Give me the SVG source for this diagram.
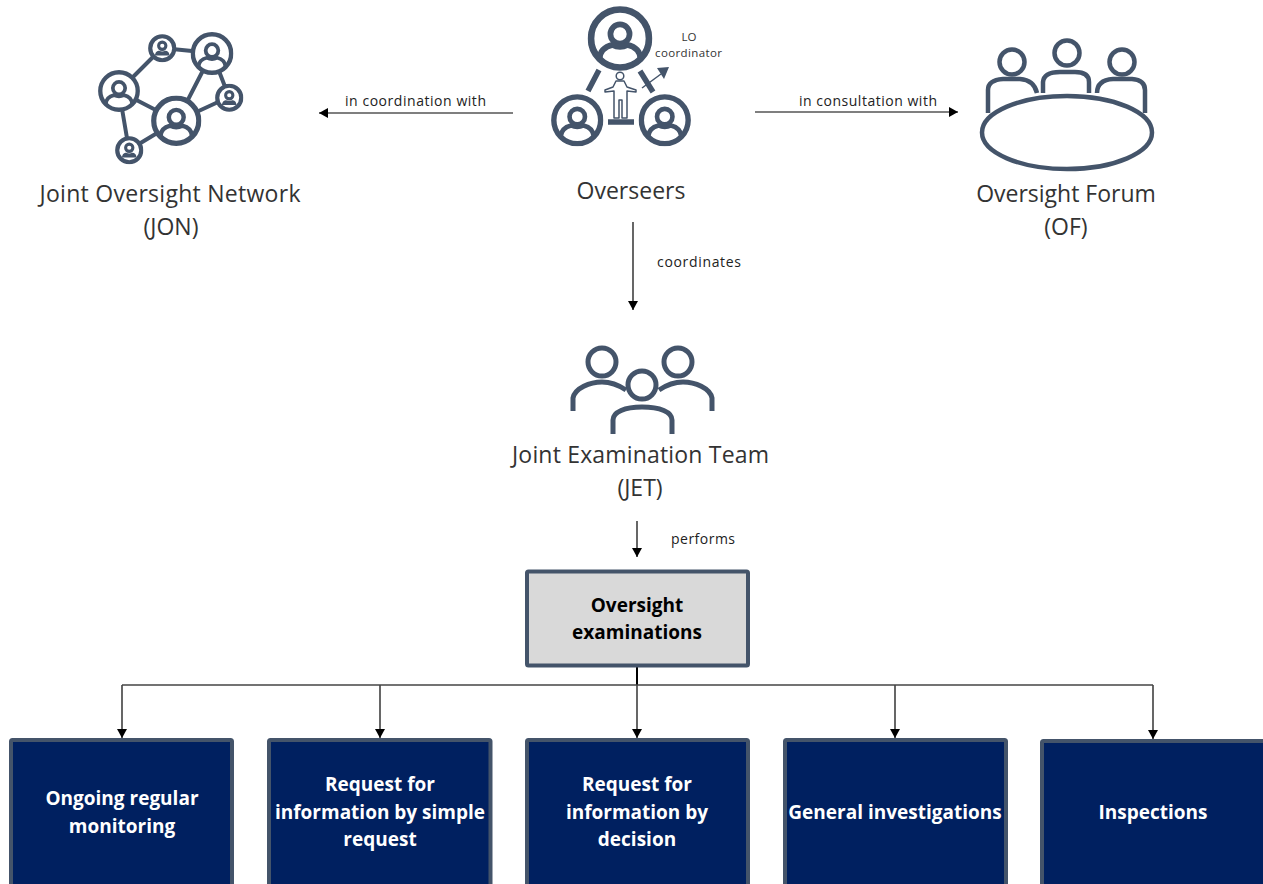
<svg xmlns="http://www.w3.org/2000/svg" width="1263" height="884" viewBox="0 0 1263 884">
<style>
text{font-family:"Open Sans","Noto Sans","Liberation Sans",sans-serif;text-anchor:middle}
.big{font-size:23px;fill:#333}
.small{font-size:14px;fill:#222}
.lo{font-size:11.5px;fill:#333}
.b{font-size:19px;font-weight:700}
.w{fill:#fff}
.k{fill:#000}
.i{fill:none;stroke:#44546a;stroke-linecap:butt;stroke-linejoin:round}
.c{fill:none;stroke:#000;stroke-width:1.2}
.h{fill:none;stroke:#444;stroke-width:1.6}
.nb{fill:#002060;stroke:#44546a;stroke-width:4}
.gb{fill:#d9d9d9;stroke:#44546a;stroke-width:4}
</style>
<defs>
<marker id="a" markerUnits="userSpaceOnUse" markerWidth="10" markerHeight="10" refX="9" refY="5" orient="auto"><path d="M0 0L9 5L0 10Z" fill="#000"/></marker>
<symbol id="p" viewBox="-51 -51 102 102">
<circle r="45.500" fill="#fff" stroke="#44546a" stroke-width="10.500"/>
<circle cy="-7" r="15" fill="none" stroke="#44546a" stroke-width="9"/>
<path d="M-32 31C-31 16-20 12-12 10Q0 16 12 10C20 12 31 16 32 31" fill="none" stroke="#44546a" stroke-width="9"/>
</symbol>
<symbol id="q" viewBox="-51 -51 102 102">
<circle r="43" fill="#fff" stroke="#44546a" stroke-width="15"/>
<circle cy="-9" r="13" fill="none" stroke="#44546a" stroke-width="11"/>
<path d="M-26 26C-25 12-17 10-11 9Q0 14 11 9C17 10 25 12 26 26Z" fill="#44546a"/>
</symbol>
</defs>
<g id="connectors">
<path class="c" marker-end="url(#a)" d="M513 113H319"/>
<path class="c" marker-end="url(#a)" d="M755 112H958"/>
<path class="c" marker-end="url(#a)" d="M633 222V310"/>
<path class="c" marker-end="url(#a)" d="M637 521V557"/>
<path class="c" style="stroke-width:2" d="M637 667V685"/>
<path class="c" marker-end="url(#a)" d="M122 685V738"/>
<path class="c" marker-end="url(#a)" d="M380 685V738"/>
<path class="c" marker-end="url(#a)" d="M637 685V738"/>
<path class="c" marker-end="url(#a)" d="M895 685V738"/>
<path class="c" marker-end="url(#a)" d="M1153 685V739"/>
<path class="h" d="M122 685H1153"/>
<text class="small" x="415.500" y="105.500" textLength="141">in coordination with</text>
<text class="small" x="868" y="105.500" textLength="138">in consultation with</text>
<text class="small" x="699" y="266.500" textLength="84">coordinates</text>
<text class="small" x="703" y="543.500" textLength="64">performs</text>
</g>
<g id="jon">
<g class="i" stroke-width="4"><path d="M162 48L119 91M162 48L212 53M212 53L177 121M212 53L229 97M119 91L177 121M119 91L129 150M177 121L129 150M177 121L229 97"/></g>
<use href="#q" x="148" y="34" width="28.500" height="28.500"/>
<use href="#p" x="190.500" y="32" width="43" height="43"/>
<use href="#p" x="98" y="70" width="42" height="42"/>
<use href="#p" x="151" y="95.500" width="50.500" height="50.500"/>
<use href="#q" x="215" y="83.500" width="28.500" height="28.500"/>
<use href="#q" x="115" y="136" width="28.500" height="28.500"/>
<text class="big" x="170" y="202" textLength="261">Joint Oversight Network</text>
<text class="big" x="171" y="235">(JON)</text>
</g>
<g id="overseers">
<use href="#p" x="587.500" y="6" width="65" height="65"/>
<use href="#p" x="551" y="94" width="52.500" height="52.500"/>
<use href="#p" x="638.500" y="94" width="52.500" height="52.500"/>
<path class="i" stroke-width="5.500" d="M599 70L588 91M640 71L653 92M608 122H634"/>
<g class="i" stroke-width="1.500"><circle cx="620" cy="76" r="3.800"/><path d="M616 81H624L627 87L636 90V92L627 91V118H622V100H619V118H614V91L605 92V90L613 87Z"/></g>
<path class="i" stroke-width="1.500" d="M642 88L661 74"/><path d="M669 67L657 68L664 79Z" fill="#44546a"/>
<text class="lo" x="689" y="41">LO</text>
<text class="lo" x="688.500" y="57" textLength="67">coordinator</text>
<text class="big" x="631" y="199">Overseers</text>
</g>
<g id="of">
<g class="i" stroke-width="4.500">
<circle cx="1012" cy="62" r="12.500"/><circle cx="1067" cy="53" r="12.500"/><circle cx="1122" cy="62" r="12.500"/>
<path d="M988 113V90Q988 80 1003 79H1020Q1034 80 1037 93M1043 93V82Q1044 72 1060 72H1075Q1089 72 1089 82V93M1097 93Q1097 80 1113 79H1132Q1145 80 1145 90V113"/>
<ellipse cx="1067" cy="132.500" rx="85" ry="36.500"/>
</g>
<text class="big" x="1066" y="202">Oversight Forum</text>
<text class="big" x="1066" y="235">(OF)</text>
</g>
<g id="jet">
<g class="i" stroke-width="5">
<circle cx="602" cy="362" r="14"/><circle cx="678" cy="362" r="14"/><circle cx="642" cy="385" r="14"/>
<path d="M573 411V398C575 388 590 382 602 382C612 382 620 386 626 390M659 390C665 386 673 382 683 382C695 382 710 388 712 398V411M613 434V420C613 412 625 407 642 407C660 407 672 412 672 420V434"/>
</g>
<text class="big" x="640.500" y="463" textLength="257">Joint Examination Team</text>
<text class="big" x="640" y="496">(JET)</text>
</g>
<g id="oversight-examinations">
<rect class="gb" x="527" y="571.500" width="221" height="94" rx="1.500"/>
<text class="b k" x="637" y="612">Oversight</text>
<text class="b k" x="637" y="639">examinations</text>
</g>
<g id="ongoing"><rect class="nb" x="11" y="740" width="221" height="150" rx="1.500"/><text class="b w" x="122" y="805">Ongoing regular</text><text class="b w" x="122" y="833">monitoring</text></g>
<g id="rfi-simple"><rect class="nb" x="269" y="740" width="221.500" height="150" rx="1.500"/><text class="b w" x="380" y="791">Request for</text><text class="b w" x="380" y="819">information by simple</text><text class="b w" x="380" y="846">request</text></g>
<g id="rfi-decision"><rect class="nb" x="527" y="740" width="221" height="150" rx="1.500"/><text class="b w" x="637" y="791">Request for</text><text class="b w" x="637" y="819">information by</text><text class="b w" x="637" y="846">decision</text></g>
<g id="general"><rect class="nb" x="785" y="740" width="221" height="150" rx="1.500"/><text class="b w" x="895" y="819">General investigations</text></g>
<g id="inspections"><rect class="nb" x="1042" y="741" width="223" height="150" rx="1.500"/><text class="b w" x="1153" y="819">Inspections</text></g>
</svg>
